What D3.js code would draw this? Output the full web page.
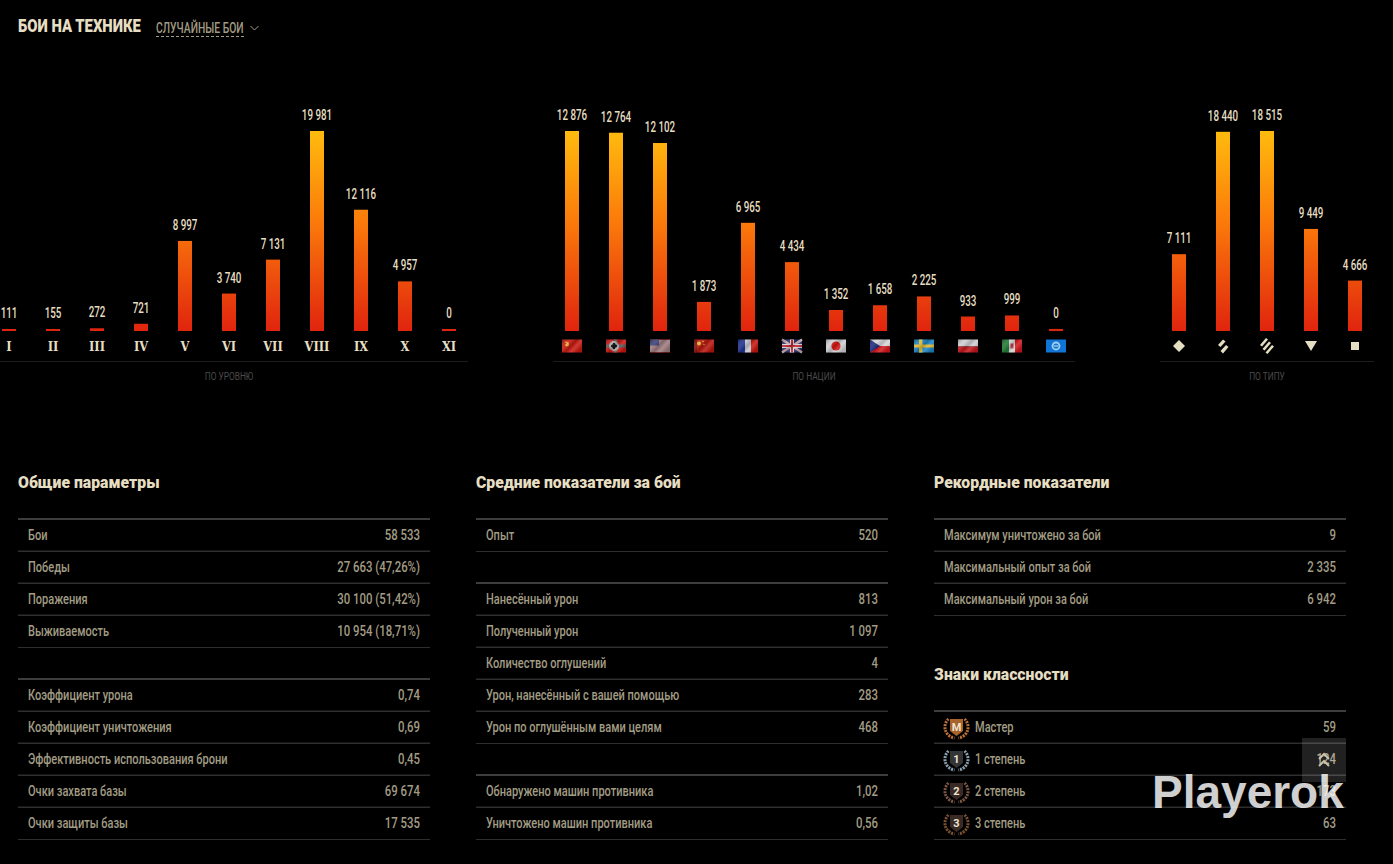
<!DOCTYPE html>
<html lang="ru">
<head>
<meta charset="utf-8">
<script src="https://d3js.org/d3.v7.min.js"></script>
<style>
html, body { margin: 0; background: #000; overflow: hidden; }
svg { display: block; }
text { font-family: Roboto, sans-serif; }
</style>
</head>
<body>
<script>
// bar charts
const levels = ['I', 'II', 'III', 'IV', 'V', 'VI', 'VII', 'VIII', 'IX', 'X', 'XI'];
const levelBattles = [111, 155, 272, 721, 8997, 3740, 7131, 19981, 12116, 4957, 0];
const nations = ['ussr', 'germany', 'usa', 'china', 'france', 'uk', 'japan', 'czech', 'sweden', 'poland', 'italy', 'intunion'];
const nationBattles = [12876, 12764, 12102, 1873, 6965, 4434, 1352, 1658, 2225, 933, 999, 0];
const types = ['light', 'medium', 'heavy', 'td', 'spg'];
const typeBattles = [7111, 18440, 18515, 9449, 4666];

// tables, null = empty row
const generalRows = [['Бои', '58 533'], ['Победы', '27 663 (47,26%)'], ['Поражения', '30 100 (51,42%)'], ['Выживаемость', '10 954 (18,71%)'], null,
  ['Коэффициент урона', '0,74'], ['Коэффициент уничтожения', '0,69'], ['Эффективность использования брони', '0,45'], ['Очки захвата базы', '69 674'], ['Очки защиты базы', '17 535']];
const averageRows = [['Опыт', '520'], null,
  ['Нанесённый урон', '813'], ['Полученный урон', '1 097'], ['Количество оглушений', '4'], ['Урон, нанесённый с вашей помощью', '283'], ['Урон по оглушённым вами целям', '468'], null,
  ['Обнаружено машин противника', '1,02'], ['Уничтожено машин противника', '0,56']];
const recordRows = [['Максимум уничтожено за бой', '9'], ['Максимальный опыт за бой', '2 335'], ['Максимальный урон за бой', '6 942']];
const rankRows = [['Мастер', '59'], ['1 степень', '124'], ['2 степень', '173'], ['3 степень', '63']];
const rankBadges = ['М', '1', '2', '3'];
const rankColors = ['#b96f36', '#8aa0b0', '#7d5646', '#7a5030'];

const cream = '#e6dec2', muted = '#a29c84';
const width = 1393, height = 864;
const nameStretch = 0.735;

const svg = d3.select('body').append('svg').attr('width', width).attr('height', height);
svg.append('rect').attr('width', width).attr('height', height).attr('fill', '#000');

const defs = svg.append('defs');
const grad = defs.append('linearGradient').attr('id', 'barFill')
  .attr('gradientUnits', 'userSpaceOnUse').attr('x1', 0).attr('x2', 0).attr('y1', 131).attr('y2', 331);
grad.append('stop').attr('offset', '0%').attr('stop-color', '#ffbb0e');
grad.append('stop').attr('offset', '45%').attr('stop-color', '#fb7b0a');
grad.append('stop').attr('offset', '100%').attr('stop-color', '#e0240e');

// fold shading over the flags
const sheen = defs.append('linearGradient').attr('id', 'sheen').attr('x1', 0).attr('y1', 0).attr('x2', 1).attr('y2', 0.6);
[[0, '#000', 0.3], [0.3, '#fff', 0.12], [0.55, '#000', 0.18], [0.75, '#fff', 0.15], [1, '#000', 0.15]].forEach(s => {
  sheen.append('stop').attr('offset', s[0]).attr('stop-color', s[1]).attr('stop-opacity', s[2]);
});

// text squeezed horizontally, the original face is very condensed
function put(g, x, y, str, o) {
  o = o || {};
  return g.append('text')
    .attr('transform', `translate(${x},${y}) scale(${o.sx || 1},1)`)
    .attr('text-anchor', o.anchor || 'start')
    .attr('font-size', o.size || 14)
    .attr('font-weight', o.weight || 400)
    .attr('fill', o.fill || muted)
    .text(str);
}

const fmt = d3.formatLocale({ decimal: ',', thousands: ' ', grouping: [3], currency: ['', ''] }).format(',d');

function barChart(o) {
  const g = svg.append('g');
  const x = d3.scaleBand().domain(o.names).range([o.center0 - 22, o.center0 - 22 + 44 * o.names.length]);
  const y = d3.scaleLinear().domain([0, d3.max(o.values)]).range([331, 131]);
  const rows = o.names.map((n, i) => ({ name: n, value: o.values[i] }));
  const top = d => Math.min(y(d.value), 329); // small values still get 2px

  g.selectAll('rect.bar').data(rows).join('rect').attr('class', 'bar')
    .attr('x', d => x(d.name) + 15).attr('width', 14)
    .attr('y', top).attr('height', d => 331 - top(d))
    .attr('fill', 'url(#barFill)');

  rows.forEach(d => {
    put(g, x(d.name) + 22, top(d) - 11, fmt(d.value), { anchor: 'middle', size: 14, weight: 500, fill: cream, sx: 0.7 });
  });

  const axis = g.append('g').attr('transform', 'translate(0,346)')
    .call(d3.axisBottom(x).tickSize(0).tickPadding(0).tickFormat(o.tickText || (() => '')));
  axis.select('.domain').remove();
  axis.selectAll('text')
    .attr('dy', '0.35em').attr('y', 0)
    .attr('font-size', 13).attr('fill', cream)
    .style('font-family', '"DejaVu Serif", serif').style('font-weight', 700)
    .attr('transform', 'scale(0.88,1)');
  if (o.icon) rows.forEach(d => o.icon(g.append('g').attr('transform', `translate(${x(d.name) + 22},346)`), d.name));

  g.append('line').attr('x1', o.x0).attr('x2', o.x1).attr('y1', 361.5).attr('y2', 361.5).attr('stroke', '#1c1c1c');
  put(g, (o.x0 + o.x1) / 2 - (o.capShift || 0), 380, o.caption, { anchor: 'middle', size: 11, fill: '#4b4b4b', sx: 0.76 });
}

// flags, 20x13 around the centre
function flag(g, name) {
  const f = g.append('g').attr('transform', 'translate(-10,-6.5)');
  const r = (x, y, w, h, c) => f.append('rect').attr('x', x).attr('y', y).attr('width', w).attr('height', h).attr('fill', c);
  const dot = (cx, cy, rad, c) => f.append('circle').attr('cx', cx).attr('cy', cy).attr('r', rad).attr('fill', c);
  if (name === 'ussr') {
    r(0, 0, 20, 13, '#c8180f');
    f.append('path').attr('d', 'M3,2.500Q7,3 6,6L4,6.500M3.500,6L6.500,3').attr('fill', 'none').attr('stroke', '#e8c23a').attr('stroke-width', 1.2);
  }
  if (name === 'germany') {
    r(0, 0, 20, 13, '#c9150e'); r(0, 5, 20, 3, '#555'); r(8, 0, 3, 13, '#555');
    dot(8, 6.5, 5, '#aaa'); dot(8, 6.5, 2.5, '#444');
    r(7, 3.5, 2, 6, '#111'); r(5, 5.5, 6, 2, '#111');
  }
  if (name === 'usa') {
    d3.range(7).forEach(i => r(0, i * 2, 20, 1, '#c93838'));
    d3.range(6).forEach(i => r(0, i * 2 + 1, 20, 1, '#d8d8e0'));
    r(0, 0, 9, 6, '#3a3f78');
  }
  if (name === 'china') { r(0, 0, 20, 13, '#b8140c'); r(0, 0, 3, 13, '#7a0d08'); dot(5, 4, 2, '#e8b52c'); dot(9, 2, 0.8, '#e8b52c'); dot(10, 5, 0.8, '#e8b52c'); }
  if (name === 'france') { r(0, 0, 7, 13, '#1f2f90'); r(7, 0, 6, 13, '#c8c8d0'); r(13, 0, 7, 13, '#c8160f'); }
  if (name === 'uk') {
    r(0, 0, 20, 13, '#2a2f6a');
    f.append('path').attr('d', 'M0,0L20,13M20,0L0,13').attr('stroke', '#c9a8b0').attr('stroke-width', 2.4);
    r(8, 0, 4, 13, '#d8d8e0'); r(0, 4.5, 20, 4, '#d8d8e0');
    r(9, 0, 2, 13, '#c0202a'); r(0, 5.5, 20, 2, '#c0202a');
  }
  if (name === 'japan') { r(0, 0, 20, 13, '#cfcfd4'); dot(10, 6.5, 4.6, '#d4140f'); }
  if (name === 'czech') {
    r(0, 0, 20, 6.5, '#d8d8dc'); r(0, 6.5, 20, 6.5, '#d3161a');
    f.append('path').attr('d', 'M0,0L10,6.5L0,13Z').attr('fill', '#1d2b7d');
  }
  if (name === 'sweden') { r(0, 0, 20, 13, '#1b84c4'); r(5, 0, 3.4, 13, '#e2b92e'); r(0, 5, 20, 3, '#e2b92e'); }
  if (name === 'poland') { r(0, 0, 20, 7, '#cfcfd4'); r(0, 7, 20, 6, '#c3161a'); }
  if (name === 'italy') { r(0, 0, 7, 13, '#1f7a34'); r(7, 0, 6, 13, '#d4d4d4'); r(13, 0, 7, 13, '#d3161a'); r(8.5, 4, 3, 5, '#c03a4a'); }
  if (name === 'intunion') { r(0, 0, 20, 13, '#0f74d6'); dot(10, 6.5, 4.4, '#9fd0f0'); dot(10, 6.5, 2.6, '#0f74d6'); r(7.8, 6, 4.4, 1, '#cfe6f6'); }
  if (name !== 'intunion') r(0, 0, 20, 13, 'url(#sheen)');
}

// vehicle class marks
function classMark(g, name) {
  const p = d => g.append('path').attr('d', d).attr('fill', cream);
  if (name === 'light') p('M0,-6L6,0L0,6L-6,0Z');
  if (name === 'medium') { p('M-5,-1L0,-6.500L2.500,-4.500L-2.500,1Z'); p('M-2.500,5L3,-1L5.500,1L0,7.500Z'); }
  if (name === 'heavy') { p('M-7,-1L-1,-8L1,-6.500L-5,0.500Z'); p('M-4.500,3L2,-4.500L4,-3L-2.500,4.500Z'); p('M-1.500,6.500L5,-1L7,0.500L0.500,8Z'); }
  if (name === 'td') p('M-6,-5H6L0,5Z');
  if (name === 'spg') p('M-4,-4H4V4H-4Z');
}

barChart({ names: levels, values: levelBattles, center0: 9, x0: 0, x1: 468, caption: 'ПО УРОВНЮ', capShift: 5, tickText: d => d });
barChart({ names: nations, values: nationBattles, center0: 572, x0: 553, x1: 1075, caption: 'ПО НАЦИИ', icon: flag });
barChart({ names: types, values: typeBattles, center0: 1179, x0: 1160, x1: 1374, caption: 'ПО ТИПУ', capShift: 0, icon: classMark });

// title
put(svg, 18, 32, 'БОИ НА ТЕХНИКЕ', { size: 19, weight: 900, fill: cream, sx: 0.78 });
put(svg, 156, 33, 'СЛУЧАЙНЫЕ БОИ', { size: 15, weight: 500, fill: muted, sx: 0.69 });
svg.append('line').attr('x1', 156).attr('x2', 244).attr('y1', 36.5).attr('y2', 36.5)
  .attr('stroke', '#a29c84').attr('stroke-dasharray', '3 2');
svg.append('path').attr('d', 'M250.500,26L254.500,30L258.500,26').attr('fill', 'none').attr('stroke', muted);

function table(x, y0, heading, rows, badges) {
  const g = svg.append('g');
  const w = 412;
  put(g, x, y0 - 31, heading, { size: 16, weight: 900, fill: cream, sx: 0.985 });
  const firstOfBlock = (i) => i === 0 || rows[i - 1] === null;
  rows.forEach((row, i) => {
    const y = y0 + i * 32;
    if (row === null) return;
    // line above the row: heavier at the start of a block
    g.append('line').attr('x1', x).attr('x2', x + w).attr('y1', y).attr('y2', y)
      .attr('stroke', firstOfBlock(i) ? '#3d3d3d' : '#2e2e2e').attr('stroke-width', firstOfBlock(i) ? 2 : 1);
    g.append('line').attr('x1', x).attr('x2', x + w).attr('y1', y + 32.5).attr('y2', y + 32.5)
      .attr('stroke', '#2e2e2e');
    const tx = badges ? x + 41 : x + 10;
    put(g, tx, y + 21, row[0], { size: 15, weight: 500, sx: nameStretch });
    put(g, x + w - 10, y + 21, row[1], { size: 15, weight: 500, anchor: 'end', sx: 0.76 });
    if (badges) {
      const b = g.append('g').attr('transform', `translate(${x + 22.5},${y + 16})`);
      // wreath, open at the top
      b.append('path').attr('d', 'M-8,-8A11,11,0,0,0,-2,11M8,-8A11,11,0,0,1,2,11')
        .attr('fill', 'none').attr('stroke', rankColors[i]).attr('stroke-width', 3).attr('stroke-dasharray', '2 1');
      b.append('path').attr('d', 'M-6.500,-8H6.500V4L0,9L-6.500,4Z').attr('fill', i === 0 ? '#a9642c' : (i === 1 ? '#333436' : '#3a2a26'));
      put(b, 0, 3.5, rankBadges[i], { size: 11, weight: 700, anchor: 'middle', fill: '#eee3cf' });
    }
  });
}

table(18, 519, 'Общие параметры', generalRows);
table(476, 519, 'Средние показатели за бой', averageRows);
table(934, 519, 'Рекордные показатели', recordRows);
table(934, 711, 'Знаки классности', rankRows, true);

// scroll-up button and watermark sit above the last table
svg.append('rect').attr('x', 1302).attr('y', 738).attr('width', 44).attr('height', 44).attr('fill', 'rgba(255,255,255,0.13)');
svg.append('path').attr('d', 'M1319,759L1324,754L1329,759M1319,766L1324,761L1329,766').attr('fill', 'none')
  .attr('stroke', '#c8c2aa').attr('stroke-width', 2);
svg.append('text').attr('x', 1152).attr('y', 808)
  .style('font-family', '"Liberation Sans", sans-serif').attr('font-weight', 700).attr('font-size', 46)
  .attr('fill', 'rgba(255,255,255,0.82)').text('Playerok');
</script>
</body>
</html>
